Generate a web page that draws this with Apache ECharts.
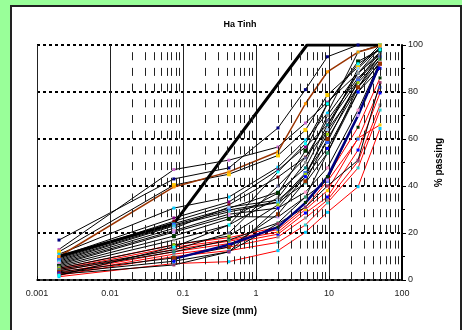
<!DOCTYPE html>
<html>
<head>
<meta charset="utf-8">
<script src="https://cdn.jsdelivr.net/npm/echarts@6/dist/echarts.min.js"></script>
<style>
  html, body { margin: 0; padding: 0; background: #99ff99; }
  #panel { position: absolute; left: 10px; top: 5px; width: 448px; height: 340px; background: #fff; border: 2px solid #222; }
  #chart { position: absolute; left: 0; top: 0; width: 462px; height: 330px; }
</style>
</head>
<body>
<div id="panel"></div>
<div id="chart"></div>
<script>
// sieve sizes (mm)
const sieveSizes = [0.002, 0.075, 0.425, 2, 4.75, 9.5, 25, 50];
const xTickLabels = ['0.001', '0.01', '0.1', '1', '10', '100'];
const yTicks = [0, 20, 40, 60, 80, 100];

// envelope lines
const upperLimitX = [0.002, 0.075, 5, 50];
const upperLimitY = [10, 24, 100, 100];
const lowerLimit = [null, 9, 15, 22.5, 32.8, 43.8, 70, 92];
const brownCurve = [10, 39.6, 46, 54.6, 75, 88.6, 97, 99.7];

// samples plotted in black
const blackCurves = [
    [17, 43, 47.7, 64.7, 81, 95, 100, 100],
    [13, 47, 51, 56.6, 66.8, 75.7, 88, 99],
    [12, 40.4, 45, 53, 63.8, 78.7, 90.6, 100],
    [11, 30.6, 35.3, 48, 59.6, 71, 97, 100],
    [10, 26.4, 33.2, 46.8, 56.6, 66, 85, 97],
    [9.5, 25, 32, 43.8, 52.3, 63.8, 82, 96],
    [9, 24, 30.5, 37.4, 47.7, 66, 88, 97],
    [8.5, 23.4, 29.8, 33.2, 45.5, 58.7, 85, 95],
    [8, 23, 29, 33, 41.3, 54, 80, 93],
    [7.5, 22, 31, 34, 43.8, 64, 90, 99],
    [7, 21, 28, 30.6, 37.4, 47.7, 72.3, 92.8],
    [6.5, 20.4, 27, 26.8, 35.3, 42.5, 70, 91.5],
    [6, 18.7, 26, 37, 55, 75, 93, 98],
    [5.5, 17, 23.4, 35, 50, 70, 88, 96],
    [5, 14.9, 18.7, 32, 45, 62, 84, 94],
    [4.5, 12.8, 20, 40, 52, 68, 86, 95],
    [4, 12, 17, 24.3, 35.3, 54, 82, 94],
    [3.5, 9.4, 14, 28, 42, 60, 82, 92],
    [3, 8, 12, 30.6, 44, 56, 80, 90],
    [2.5, 6.4, 12, 24, 31, 40, 51, 84],
    [2, 14, 23.4, 46, 58, 75, 92, 98]
];

// samples plotted in red
const redCurves = [
    [1.4, 7, 7.8, 12.5, 20.3, 28.8, 39.7, 64.5],
    [2, 10, 12.5, 16, 23.4, 32.8, 47.7, 72.3],
    [2.5, 11, 14, 18.3, 26.4, 34, 50.5, 74.5],
    [3, 12, 15.5, 19.5, 28.5, 35.3, 55.3, 79.6],
    [3.8, 13, 16.5, 20.4, 30, 38, 60.4, 66],
    [4.5, 14, 17, 21.5, 31, 42, 60, 82],
    [5, 15, 18, 22.5, 33, 44, 65, 86]
];

const markerColors = ['#000080', '#cc66cc', '#ffcc00', '#00ccff', '#800080', '#800000', '#008080',
    '#3366ff', '#33cccc', '#99ccff', '#ff99cc', '#cc99ff', '#003300', '#969696',
    '#99cc00', '#666699', '#339966', '#993300', '#0000ff', '#993366', '#00ffff'];

function pairs(ys) {
    return sieveSizes.map((x, i) => [x, ys[i]]).filter(p => p[1] != null);
}

// minor grid positions 2..9 in every decade
const minorLines = [];
for (let d = -3; d <= 1; d++) {
    for (let k = 2; k <= 9; k++) {
        minorLines.push({ xAxis: +(k * Math.pow(10, d)).toPrecision(3) });
    }
}

const series = [];
series.push({
    type: 'line', data: [], z: 1, silent: true,
    markLine: {
        silent: true, symbol: ['none', 'none'], label: { show: false },
        lineStyle: { color: '#222', width: 1, type: [8, 7.7] },
        data: minorLines
    }
});

redCurves.forEach((c, i) => {
    series.push({
        type: 'line', data: pairs(c), symbol: 'rect', symbolSize: 3,
        lineStyle: { color: '#ff0000', width: 1 },
        itemStyle: { color: markerColors[(i * 5 + 3) % markerColors.length] }
    });
});

blackCurves.forEach((c, i) => {
    series.push({
        type: 'line', data: pairs(c), symbol: 'rect', symbolSize: i % 5 === 2 ? 4 : 3,
        lineStyle: { color: '#000', width: 1 },
        itemStyle: { color: markerColors[i % markerColors.length] }
    });
});

series.push({
    type: 'line', data: pairs(brownCurve), symbol: 'rect', symbolSize: 3,
    lineStyle: { color: '#993300', width: 1.5 },
    itemStyle: { color: '#ff9900' }
});
series.push({
    type: 'line', data: pairs(lowerLimit), symbol: 'none',
    lineStyle: { color: '#000080', width: 2.5 }
});
series.push({
    type: 'line', data: upperLimitX.map((x, i) => [x, upperLimitY[i]]), symbol: 'none',
    lineStyle: { color: '#000', width: 3 }
});

const chart = echarts.init(document.getElementById('chart'));
chart.setOption({
    animation: false,
    title: {
        text: 'Ha Tinh', left: 235, top: 15, textAlign: 'center',
        textStyle: { fontFamily: 'Liberation Sans', fontSize: 9, fontWeight: 'bold', color: '#000' }
    },
    grid: { left: 37, right: 60, top: 45, bottom: 50 },
    xAxis: {
        type: 'log', logBase: 10, min: 0.001, max: 100,
        name: 'Sieve size (mm)', nameLocation: 'middle', nameGap: 26,
        nameTextStyle: { fontFamily: 'Liberation Sans', fontSize: 10, fontWeight: 'bold', color: '#000' },
        axisLine: { show: true, onZero: false, lineStyle: { color: '#000', width: 1.5 } },
        axisTick: { show: true, inside: true, length: 4, lineStyle: { color: '#000' } },
        axisLabel: {
            fontFamily: 'Liberation Sans', fontSize: 9, color: '#222', margin: 9,
            formatter: v => xTickLabels[Math.round(Math.log10(v)) + 3]
        },
        splitLine: { show: true, lineStyle: { color: '#222', width: 1 } }
    },
    yAxis: {
        type: 'value', position: 'right', min: yTicks[0], max: yTicks[yTicks.length - 1], interval: 20,
        name: '% passing', nameLocation: 'middle', nameGap: 27, nameRotate: 90,
        nameTextStyle: { fontFamily: 'Liberation Sans', fontSize: 10, fontWeight: 'bold', color: '#000' },
        axisLine: { show: true, lineStyle: { color: '#000', width: 2 } },
        axisTick: { show: true, length: 4, lineStyle: { color: '#000' } },
        minorTick: { show: true, splitNumber: 2, length: 3, lineStyle: { color: '#000' } },
        axisLabel: { fontFamily: 'Liberation Sans', fontSize: 9, color: '#222', margin: 6 },
        splitLine: { show: true, lineStyle: { color: '#000', width: 2, type: [3, 3] } }
    },
    series: series
});
</script>
</body>
</html>
